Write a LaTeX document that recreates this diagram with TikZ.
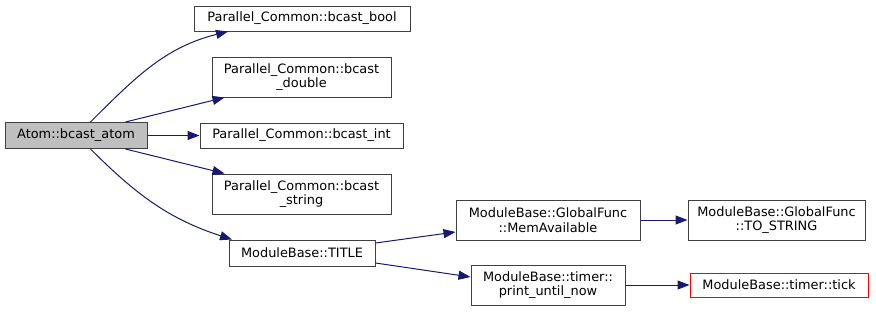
\documentclass[tikz,border=0pt]{standalone}
\usepackage{fontspec}
\setmainfont{DejaVu Sans}
\usetikzlibrary{arrows.meta}
\definecolor{edgeblue}{HTML}{191970}
\definecolor{boxline}{HTML}{404040}
\definecolor{rootfill}{HTML}{BFBFBF}
\begin{document}
\begin{tikzpicture}[x=1pt,y=-1pt,font=\fontsize{12.9}{14.5}\selectfont,
    fn/.style={draw=boxline,line width=1pt,fill=white,inner sep=0pt,align=center,minimum height=25pt},
    fn2/.style={fn,minimum height=40pt},
    call/.style={draw=edgeblue,line width=1pt,-{Triangle[length=12pt,width=9pt]}}]
  \useasboundingbox (0,0) rectangle (876,311);
  % caller
  \node[fn,fill=rootfill,minimum width=142pt,minimum height=26pt] (atom) at (76,135.5) {Atom::bcast\_atom};
  % first level
  \node[fn,minimum width=216pt] (bool) at (302,18.5) {Parallel\_Common::bcast\_bool};
  \node[fn2,minimum width=179pt] (double) at (301.5,77) {Parallel\_Common::bcast\\\_double};
  \node[fn,minimum width=203pt] (int) at (301.5,135.5) {Parallel\_Common::bcast\_int};
  \node[fn2,minimum width=179pt] (string) at (301.5,194) {Parallel\_Common::bcast\\\_string};
  \node[fn,minimum width=146pt,minimum height=26pt] (title) at (302,253) {ModuleBase::TITLE};
  % second and third level
  \node[fn2,minimum width=184pt] (mem) at (548,220) {ModuleBase::GlobalFunc\\::MemAvailable};
  \node[fn2,minimum width=177pt] (tostr) at (776.5,220) {ModuleBase::GlobalFunc\\::TO\_STRING};
  \node[fn2,minimum width=154pt] (print) at (548,285) {ModuleBase::timer::\\print\_until\_now};
  \node[fn,draw=red,minimum width=178pt,minimum height=24pt] (tick) at (779,285) {ModuleBase::timer::tick};

  \draw[call] ([xshift=14.5pt]atom.north) to[out=45,in=194] ([xshift=-74pt]bool.south);
  \draw[call] ([xshift=49.5pt]atom.north) -- ([xshift=-77pt]double.south);
  \draw[call] (atom.east) -- (int.west);
  \draw[call] ([xshift=49.5pt]atom.south) -- ([xshift=-77pt]string.north);
  \draw[call] ([xshift=14.5pt]atom.south) to[out=-45,in=162] ([xshift=-70pt]title.north);
  \draw[call] ([yshift=10pt]title.east) -- ([yshift=-12pt]mem.west);
  \draw[call] ([yshift=-10pt]title.east) -- ([yshift=8pt]print.west);
  \draw[call] (mem.east) -- (tostr.west);
  \draw[call] (print.east) -- (tick.west);
\end{tikzpicture}
\end{document}
